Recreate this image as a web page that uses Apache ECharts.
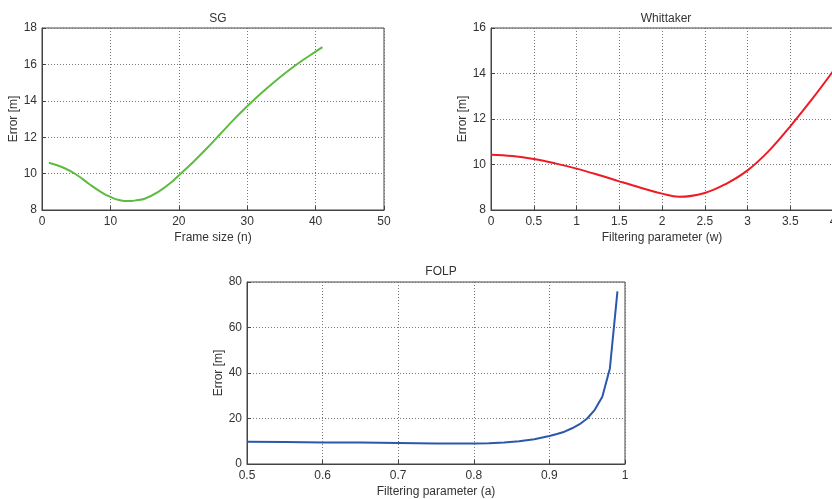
<!doctype html>
<html>
<head>
<meta charset="utf-8">
<title>Error vs filter parameter</title>
<script src="https://cdn.jsdelivr.net/npm/echarts@6/dist/echarts.min.js"></script>
<style>
  html, body { margin: 0; padding: 0; background: #fff; }
  #main { width: 832px; height: 499px; }
</style>
</head>
<body>
<div id="main"></div>
<script>

// SG: frame size (n) vs error
var sgX = [1, 3, 5, 7, 9, 10, 11, 12, 13, 14, 15, 17, 19, 20, 22, 24, 26, 28, 30, 32, 34, 36, 38, 40, 41];
var sgY = [10.6, 10.35, 9.95, 9.4, 8.9, 8.72, 8.57, 8.5, 8.5, 8.55, 8.62, 9.0, 9.55, 9.9, 10.6, 11.35, 12.15, 12.95, 13.7, 14.4, 15.05, 15.65, 16.2, 16.7, 16.95];

// Whittaker: filtering parameter (w) vs error
var whX = [0, 0.25, 0.5, 0.75, 1, 1.25, 1.5, 1.75, 2, 2.2, 2.5, 2.75, 3, 3.25, 3.5, 3.75, 4];
var whY = [10.43, 10.37, 10.24, 10.05, 9.82, 9.55, 9.26, 8.98, 8.72, 8.58, 8.75, 9.15, 9.74, 10.6, 11.68, 12.85, 14.1];

// FOLP: filtering parameter (a) vs error
var fpX = [0.5, 0.55, 0.6, 0.65, 0.7, 0.75, 0.8, 0.82, 0.84, 0.86, 0.88, 0.9, 0.91, 0.92, 0.93, 0.94, 0.95, 0.96, 0.97, 0.98, 0.99];
var fpY = [9.8, 9.7, 9.5, 9.4, 9.2, 9.0, 9.0, 9.1, 9.4, 10.0, 10.9, 12.3, 13.2, 14.2, 15.7, 17.5, 20.0, 23.8, 29.6, 42.0, 75.9];

var titles = ['SG', 'Whittaker', 'FOLP'];
var xNames = ['Frame size (n)', 'Filtering parameter (w)', 'Filtering parameter (a)'];
var yName = 'Error [m]';

function pairs(xs, ys) {
    return xs.map(function (x, i) { return [x, ys[i]]; });
}

var textColor = '#333';
var font = 'Liberation Sans, Arial, sans-serif';

function xAxis(idx, min, max, interval) {
    return {
        type: 'value', gridIndex: idx, min: min, max: max, interval: interval,
        name: xNames[idx], nameLocation: 'middle', nameGap: 22,
        nameTextStyle: { color: textColor, fontSize: 12, fontFamily: font },
        axisLine: { show: true, lineStyle: { color: '#444' } },
        axisTick: { show: true, inside: true, length: 4, lineStyle: { color: '#444' } },
        axisLabel: { color: textColor, fontSize: 12, fontFamily: font, margin: 6 },
        splitLine: { show: true, lineStyle: { color: '#777', type: [1, 2] } }
    };
}

function yAxis(idx, min, max, interval, gap) {
    return {
        type: 'value', gridIndex: idx, min: min, max: max, interval: interval,
        name: yName, nameLocation: 'middle', nameGap: gap,
        nameTextStyle: { color: textColor, fontSize: 12, fontFamily: font },
        axisLine: { show: true, lineStyle: { color: '#444' } },
        axisTick: { show: true, inside: true, length: 4, lineStyle: { color: '#444' } },
        axisLabel: { color: textColor, fontSize: 12, fontFamily: font, margin: 5 },
        splitLine: { show: true, lineStyle: { color: '#777', type: [1, 2] } }
    };
}

var chart = echarts.init(document.getElementById('main'));

chart.setOption({
    animation: false,
    backgroundColor: '#fff',
    title: [
        { text: titles[0], left: 213, top: 8, textAlign: 'center',
          textStyle: { fontSize: 12, fontWeight: 'normal', color: textColor, fontFamily: font } },
        { text: titles[1], left: 661, top: 8, textAlign: 'center',
          textStyle: { fontSize: 12, fontWeight: 'normal', color: textColor, fontFamily: font } },
        { text: titles[2], left: 436, top: 261, textAlign: 'center',
          textStyle: { fontSize: 12, fontWeight: 'normal', color: textColor, fontFamily: font } }
    ],
    grid: [
        { left: 42, right: 448, top: 28, bottom: 289, show: true, borderColor: '#444', borderWidth: 1, outerBoundsMode: 'none' },
        { left: 491, right: -1, top: 28, bottom: 289, show: true, borderColor: '#444', borderWidth: 1, outerBoundsMode: 'none' },
        { left: 247, right: 207, top: 282, bottom: 35, show: true, borderColor: '#444', borderWidth: 1, outerBoundsMode: 'none' }
    ],
    xAxis: [
        xAxis(0, 0, 50, 10),
        xAxis(1, 0, 4, 0.5),
        xAxis(2, 0.5, 1, 0.1)
    ],
    yAxis: [
        yAxis(0, 8, 18, 2, 18),
        yAxis(1, 8, 16, 2, 18),
        yAxis(2, 0, 80, 20, 22)
    ],
    series: [
        { type: 'line', xAxisIndex: 0, yAxisIndex: 0, data: pairs(sgX, sgY), smooth: 0.4,
          symbol: 'none', lineStyle: { color: '#5dbb3f', width: 2 } },
        { type: 'line', xAxisIndex: 1, yAxisIndex: 1, data: pairs(whX, whY), smooth: 0.4,
          symbol: 'none', lineStyle: { color: '#ee1b24', width: 2 } },
        { type: 'line', xAxisIndex: 2, yAxisIndex: 2, data: pairs(fpX, fpY),
          symbol: 'none', lineStyle: { color: '#2b58ad', width: 2 } }
    ]
});
</script>
</body>
</html>
